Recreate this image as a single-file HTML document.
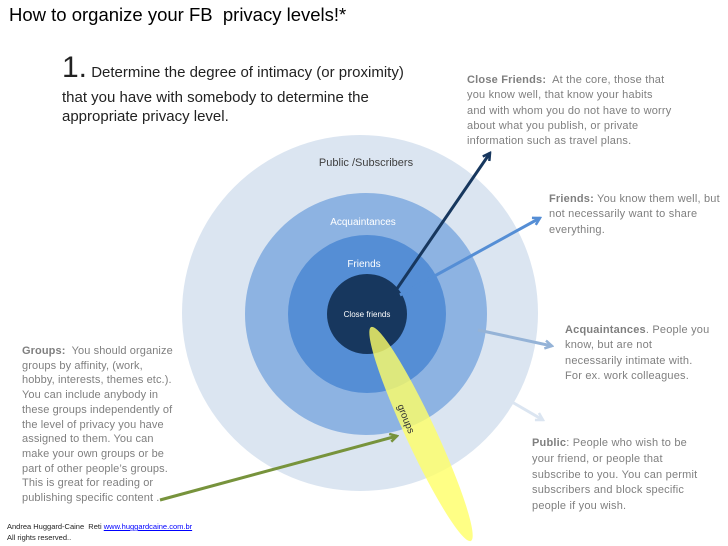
<!DOCTYPE html>
<html><head><meta charset="utf-8"><style>
body{margin:0;width:728px;height:546px;background:#fff;position:relative;overflow:hidden;font-family:"Liberation Sans",sans-serif}
.t{position:absolute;color:#7f7f7f;font-size:11px;line-height:15.3px;white-space:nowrap;letter-spacing:0.2px}
.t b{color:#7f7f7f}
.s{position:absolute;font-size:15px;line-height:20px;color:#222;white-space:nowrap}
</style></head><body>
<svg width="728" height="546" style="position:absolute;left:0;top:0">
<defs>
<marker id="m1" markerWidth="10" markerHeight="10" refX="8" refY="5" orient="auto" markerUnits="userSpaceOnUse"><path d="M1,1 L8,5 L1,9" fill="none" stroke="#17375e" stroke-width="2.5"/></marker>
<marker id="m2" markerWidth="10" markerHeight="10" refX="8" refY="5" orient="auto" markerUnits="userSpaceOnUse"><path d="M1,1 L8,5 L1,9" fill="none" stroke="#558ed5" stroke-width="2.5"/></marker>
<marker id="m3" markerWidth="10" markerHeight="10" refX="8" refY="5" orient="auto" markerUnits="userSpaceOnUse"><path d="M1,1 L8,5 L1,9" fill="none" stroke="#95b3d7" stroke-width="2.5"/></marker>
<marker id="m4" markerWidth="10" markerHeight="10" refX="8" refY="5" orient="auto" markerUnits="userSpaceOnUse"><path d="M1,1 L8,5 L1,9" fill="none" stroke="#dbe5f1" stroke-width="2.5"/></marker>
<marker id="m5" markerWidth="10" markerHeight="10" refX="8" refY="5" orient="auto" markerUnits="userSpaceOnUse"><path d="M1,1 L8,5 L1,9" fill="none" stroke="#77933c" stroke-width="2.5"/></marker>
</defs>
<circle cx="360" cy="313" r="178" fill="#dbe5f1"/>
<circle cx="366" cy="314" r="121" fill="#8db3e2"/>
<circle cx="367" cy="314" r="79" fill="#558ed5"/>
<circle cx="367" cy="314" r="40" fill="#17375e"/>
<line x1="512" y1="402" x2="543" y2="420" stroke="#dbe5f1" stroke-width="3" marker-end="url(#m4)"/>
<line x1="478" y1="330" x2="552" y2="346" stroke="#95b3d7" stroke-width="3" marker-end="url(#m3)"/>
<line x1="400" y1="295" x2="540" y2="218" stroke="#558ed5" stroke-width="3" marker-end="url(#m2)"/>
<line x1="392" y1="296" x2="490" y2="153" stroke="#17375e" stroke-width="3" marker-end="url(#m1)"/>
<ellipse cx="421" cy="434" rx="118" ry="15" transform="rotate(65 421 434)" fill="#ffff66" fill-opacity="0.8"/>
<line x1="160" y1="500" x2="397" y2="436" stroke="#77933c" stroke-width="3" marker-end="url(#m5)"/>
<text x="366" y="166" font-size="11" fill="#404040" text-anchor="middle" font-family="Liberation Sans">Public /Subscribers</text>
<text x="363" y="225" font-size="10" fill="#fff" text-anchor="middle" font-family="Liberation Sans">Acquaintances</text>
<text x="364" y="267" font-size="10" fill="#fff" text-anchor="middle" font-family="Liberation Sans">Friends</text>
<text x="367" y="317" font-size="8" fill="#fff" text-anchor="middle" font-family="Liberation Sans">Close friends</text>
<text x="403" y="420" font-size="10" fill="#333" text-anchor="middle" transform="rotate(68 403 420)" font-family="Liberation Sans">groups</text>
</svg>
<div style="position:absolute;left:9px;top:4px;font-size:18.5px;color:#000;white-space:nowrap">How to organize your FB&nbsp; privacy levels!*</div>
<div>
<div class="s" style="left:62px;top:52px;line-height:32px"><span style="font-size:30px">1.</span> Determine the degree of intimacy (or proximity)</div>
<div class="s" style="left:62px;top:88px">that you have with somebody to determine the</div>
<div class="s" style="left:62px;top:107px">appropriate privacy level.</div>
</div>
<div class="t" style="left:467px;top:73px"><b>Close Friends:</b>&nbsp; At the core, those that<br>you know well, that know your habits<br>and with whom you do not have to worry<br>about what you publish, or private<br>information such as travel plans.</div>
<div class="t" style="left:549px;top:192px"><b>Friends:</b> You know them well, but<br>not necessarily want to share<br>everything.</div>
<div class="t" style="left:565px;top:323px"><b>Acquaintances</b>. People you<br>know, but are not<br>necessarily intimate with.<br>For ex. work colleagues.</div>
<div class="t" style="left:532px;top:436px;line-height:15.8px"><b>Public</b>: People who wish to be<br>your friend, or people that<br>subscribe to you. You can permit<br>subscribers and block specific<br>people if you wish.</div>
<div class="t" style="left:22px;top:344px;font-size:11px;line-height:14.7px;letter-spacing:0.1px"><b>Groups:</b>&nbsp; You should organize<br>groups by affinity, (work,<br>hobby, interests, themes etc.).<br>You can include anybody in<br>these groups independently of<br>the level of privacy you have<br>assigned to them. You can<br>make your own groups or be<br>part of other people’s groups.<br>This is great for reading or<br>publishing specific content .</div>
<div style="position:absolute;left:7px;top:521px;font-size:7.5px;line-height:11px;color:#222;white-space:nowrap">Andrea Huggard-Caine&nbsp; Reti <a style="color:#00f;text-decoration:underline">www.huggardcaine.com.br</a><br>All rights reserved..</div>
</body></html>
